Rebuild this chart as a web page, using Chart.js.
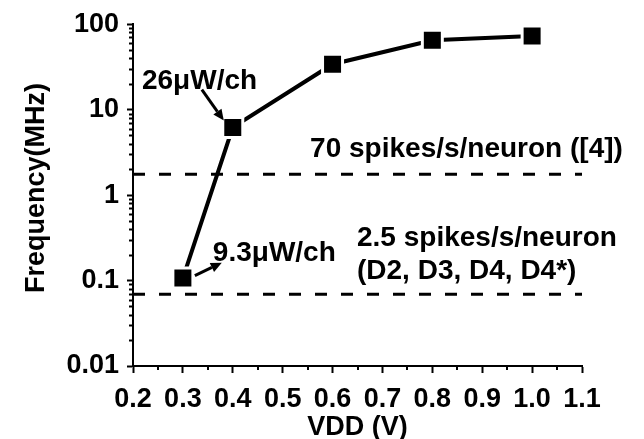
<!DOCTYPE html>
<html>
<head>
<meta charset="utf-8">
<script src="https://cdn.jsdelivr.net/npm/chart.js@4.4.1/dist/chart.umd.min.js"></script>
<style>
  body { margin: 0; background: #fff; }
  #wrap { width: 644px; height: 439px; }
</style>
</head>
<body>
<div id="wrap"><canvas id="freqChart" width="644" height="439"></canvas></div>
<script>
// datos
const vdd = [0.3, 0.4, 0.6, 0.8, 1.0];
const freqMHz = [0.107, 6.2, 34, 65, 73];
const xTicks = [0.2, 0.3, 0.4, 0.5, 0.6, 0.7, 0.8, 0.9, 1.0, 1.1];
const yTicks = [0.01, 0.1, 1, 10, 100];
const refLevels = [1.75, 0.069];   // lineas de referencia (MHz)
const refSpan = [0.2, 1.1];

// anotaciones en coordenadas de datos
const notes = [
    { text: '26\u03bcW/ch', x: 0.218, y: 17.3 },
    { text: '70 spikes/s/neuron ([4])', x: 0.555, y: 2.77 },
    { text: '9.3\u03bcW/ch', x: 0.36, y: 0.171 },
    { text: '2.5 spikes/s/neuron', x: 0.649, y: 0.255 },
    { text: '(D2, D3, D4, D4*)', x: 0.649, y: 0.103 }
];
const arrows = [
    { from: [0.338, 17.1], to: [0.382, 7.45] },
    { from: [0.324, 0.114], to: [0.378, 0.162] }
];

const FONT = "'Liberation Sans', Arial, sans-serif";

// ticks menores + textos + flechas
const extras = {
    id: 'extras',
    afterDraw(chart) {
        const { ctx, scales: { x, y } } = chart;
        ctx.save();
        ctx.strokeStyle = '#000';
        ctx.lineWidth = 2;
        // ticks menores eje y (log)
        const ax = x.left;
        yTicks.slice(0, -1).forEach(d => {
            for (let k = 2; k <= 9; k++) {
                const py = Math.round(y.getPixelForValue(d * k)) + 0.5;
                ctx.beginPath();
                ctx.moveTo(ax, py);
                ctx.lineTo(ax - 4, py);
                ctx.stroke();
            }
        });
        // ticks menores eje x
        const by = y.bottom;
        xTicks.slice(0, -1).forEach(v => {
            const px = Math.round(x.getPixelForValue(v + 0.05));
            ctx.beginPath();
            ctx.moveTo(px, by);
            ctx.lineTo(px, by + 4);
            ctx.stroke();
        });

        // titulo del eje y (un poco por encima del centro, como en el original)
        ctx.fillStyle = '#000';
        ctx.save();
        ctx.translate(37, (y.top + y.bottom) / 2 - 7);
        ctx.rotate(-Math.PI / 2);
        ctx.font = 'bold 27px ' + FONT;
        ctx.textAlign = 'center';
        ctx.textBaseline = 'middle';
        ctx.fillText('Frequency(MHz)', 0, 0);
        ctx.restore();

        // textos
        ctx.font = 'bold 28px ' + FONT;
        ctx.textAlign = 'left';
        ctx.textBaseline = 'alphabetic';
        notes.forEach(n => {
            ctx.fillText(n.text, x.getPixelForValue(n.x), y.getPixelForValue(n.y));
        });

        // flechas
        arrows.forEach(a => {
            const x0 = x.getPixelForValue(a.from[0]), y0 = y.getPixelForValue(a.from[1]);
            const x1 = x.getPixelForValue(a.to[0]), y1 = y.getPixelForValue(a.to[1]);
            const ang = Math.atan2(y1 - y0, x1 - x0);
            const head = 11, half = 5;
            const bx = x1 - head * Math.cos(ang), byy = y1 - head * Math.sin(ang);
            ctx.lineWidth = 3;
            ctx.beginPath();
            ctx.moveTo(x0, y0);
            ctx.lineTo(bx, byy);
            ctx.stroke();
            ctx.beginPath();
            ctx.moveTo(x1, y1);
            ctx.lineTo(bx + half * Math.sin(ang), byy - half * Math.cos(ang));
            ctx.lineTo(bx - half * Math.sin(ang), byy + half * Math.cos(ang));
            ctx.closePath();
            ctx.fill();
        });
        ctx.restore();
    }
};

const refSets = refLevels.map(level => ({
    data: refSpan.map(v => ({ x: v, y: level })),
    borderColor: '#000',
    borderWidth: 3,
    borderDash: [12, 14],
    pointRadius: 0,
    fill: false
}));

const ctx = document.getElementById('freqChart').getContext('2d');
new Chart(ctx, {
    type: 'line',
    data: {
        datasets: [
            ...refSets,
            {
                data: vdd.map((v, i) => ({ x: v, y: freqMHz[i] })),
                borderColor: '#000',
                borderWidth: 4,
                pointStyle: 'rect',
                pointRadius: 14.14,
                pointBackgroundColor: '#000',
                pointBorderColor: '#fff',
                pointBorderWidth: 3,
                fill: false
            }
        ]
    },
    options: {
        responsive: false,
        animation: false,
        layout: { padding: { top: 22, right: 62, left: 0, bottom: 0 } },
        plugins: { legend: { display: false }, tooltip: { enabled: false } },
        scales: {
            x: {
                type: 'linear',
                min: 0.2,
                max: 1.1,
                afterBuildTicks: s => { s.ticks = xTicks.map(v => ({ value: v })); },
                afterFit: s => { s.height = 73; },
                border: { color: '#000', width: 2 },
                grid: { drawOnChartArea: false, tickLength: 7, tickWidth: 2, color: '#000' },
                ticks: {
                    autoSkip: false,
                    maxRotation: 0,
                    padding: 10,
                    color: '#000',
                    font: { family: FONT, size: 27, weight: 'bold' },
                    callback: v => v.toFixed(1)
                },
                title: {
                    display: true,
                    text: 'VDD (V)',
                    color: '#000',
                    font: { family: FONT, size: 27, weight: 'bold', lineHeight: 1 },
                    padding: { top: 0, bottom: -2 }
                }
            },
            y: {
                type: 'logarithmic',
                min: 0.01,
                max: 100,
                afterBuildTicks: s => { s.ticks = yTicks.map(v => ({ value: v })); },
                afterFit: s => { s.width = 133; },
                border: { color: '#000', width: 2 },
                grid: { drawOnChartArea: false, tickLength: 6, tickWidth: 2, color: '#000' },
                ticks: {
                    autoSkip: false,
                    padding: 8,
                    color: '#000',
                    font: { family: FONT, size: 27, weight: 'bold' },
                    callback: v => String(v)
                }
            }
        }
    },
    plugins: [extras]
});
</script>
</body>
</html>
